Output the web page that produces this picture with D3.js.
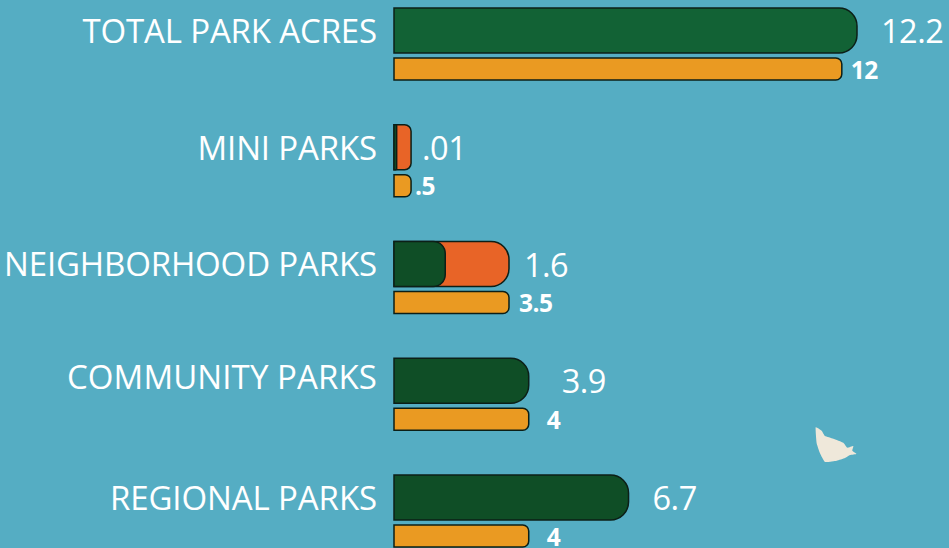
<!DOCTYPE html>
<html><head><meta charset="utf-8">
<script src="https://cdnjs.cloudflare.com/ajax/libs/d3/7.8.5/d3.min.js"></script>
<style>html,body{margin:0;padding:0;background:#55adc3;overflow:hidden}svg{display:block}</style>
</head><body><svg id="c" width="949" height="548"></svg>
<script>
const categories = ["TOTAL PARK ACRES","MINI PARKS","NEIGHBORHOOD PARKS","COMMUNITY PARKS","REGIONAL PARKS"];
// Printed labels
const currentLabels = ["12.2",".01","1.6","3.9","6.7"];
const targetLabels = ["12",".5","3.5","4","4"];
// Bar lengths as drawn in the picture (the source is not strictly to scale)
const currentDrawn = [12.2,0.45,3.03,3.55,6.18];
const greenDrawn = [12.2,0.07,1.35,3.55,6.18];
const targetDrawn = [11.8,0.45,3.03,3.55,3.55];
const greenColors = ["#126235","#0f4e26","#0f4e26","#0f4e26","#0f4e26"];
const labelOffsets = [24,11,15,33,24];
const targetLabelOffsets = [9,4,10,18,18];
const categoryNudge = [0,1,0,-4,0];
const categorySpacing = [-0.15,-0.15,-0.15,0.1,-0.1];

const svg = d3.select("#c");
const x = d3.scaleLinear().domain([0,12.2]).range([394,857]);
const y = d3.scalePoint().domain(categories).range([8,475]);
const bigH = 45, smallH = 22, gap = 50;
const stroke = "#0c1f17", sw = 1.5;
function bar(x0,x1,top,h,r){
  r = Math.min(r,(x1-x0)*0.38,h/2);
  const p = d3.path();
  p.moveTo(x0,top);
  p.arcTo(x1,top,x1,top+h,r);
  p.arcTo(x1,top+h,x0,top+h,r);
  p.lineTo(x0,top+h); p.closePath();
  return p.toString();
}
const font = "'Open Sans',sans-serif";
categories.forEach((c,i)=>{
  const t = y(c);
  const split = greenDrawn[i]<currentDrawn[i];
  svg.append("path").attr("d",bar(x(0),x(currentDrawn[i]),t,bigH,18))
    .attr("fill",split?"#e86427":greenColors[i])
    .attr("stroke",stroke).attr("stroke-width",sw);
  if(split){
    svg.append("path").attr("d",bar(x(0),x(greenDrawn[i]),t,bigH,12))
      .attr("fill",greenColors[i]).attr("stroke",stroke).attr("stroke-width",sw);
  }
  svg.append("path").attr("d",bar(x(0),x(targetDrawn[i]),t+gap,smallH,6))
    .attr("fill","#ea9a22").attr("stroke",stroke).attr("stroke-width",sw);
  svg.append("text").attr("x",377).attr("y",t+bigH/2+12+categoryNudge[i]).attr("text-anchor","end")
    .attr("fill","#fff").attr("font-family",font).attr("font-size",33).attr("letter-spacing",categorySpacing[i]).text(c);
  svg.append("text").attr("x",x(currentDrawn[i])+labelOffsets[i]).attr("y",t+bigH/2+12.5)
    .attr("fill","#fff").attr("font-family",font).attr("font-size",32.5).attr("letter-spacing",-0.5).text(currentLabels[i]);
  svg.append("text").attr("x",x(targetDrawn[i])+targetLabelOffsets[i]).attr("y",t+gap+smallH/2+9.5)
    .attr("fill","#fff").attr("font-family",font).attr("font-weight",700).attr("font-size",24.5).attr("letter-spacing",-0.5).text(targetLabels[i]);
});
// Decorative island silhouette
const island = [[77,52],[95,62],[105,78],[130,86],[160,98],[172,113],[190,108],[187,122],[200,132],[180,135],[165,144],[140,152],[105,156],[90,130],[80,100]];
svg.append("path").attr("transform","translate(790,410) scale(0.3333)")
  .attr("d",d3.line().curve(d3.curveCardinalClosed.tension(0.6))(island)).attr("fill","#efe8da");
</script></body></html>
